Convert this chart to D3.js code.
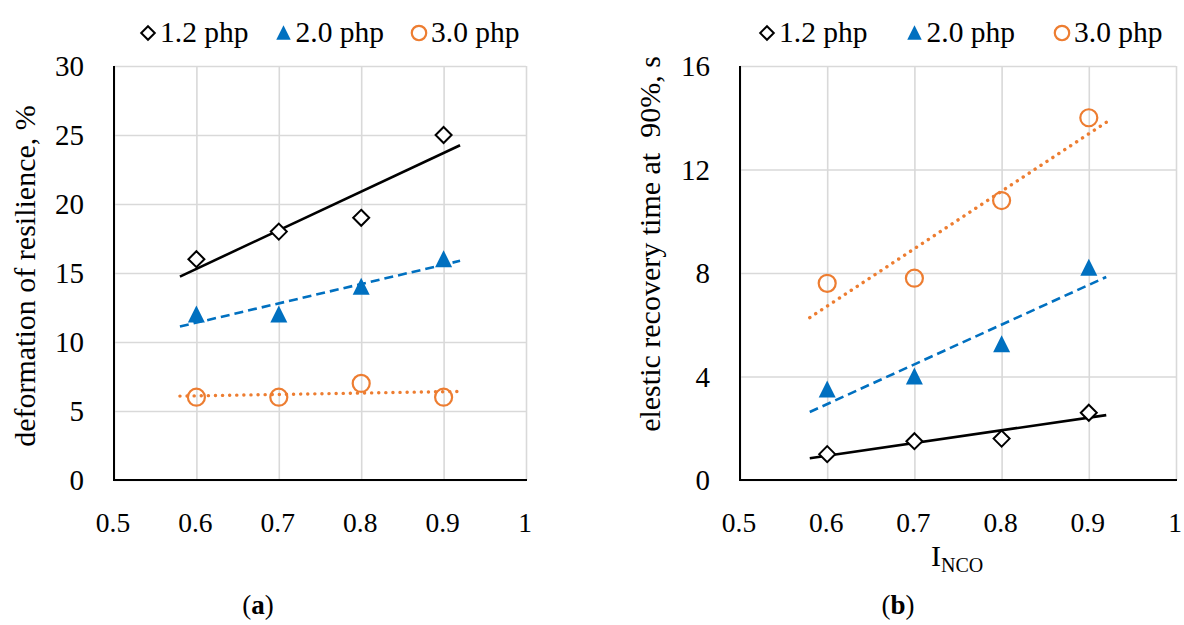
<!DOCTYPE html>
<html>
<head>
<meta charset="utf-8">
<script src="https://cdn.jsdelivr.net/npm/d3@7"></script>
<style>
  body { margin: 0; background: #fff; }
  svg { display: block; font-family: "Liberation Serif", "DejaVu Serif", serif; }
</style>
</head>
<body>
<svg id="chart" width="1184" height="625"></svg>
<script>
// --- data ---
const xValues = [0.6, 0.7, 0.8, 0.9];
const seriesNames = ["1.2 php", "2.0 php", "3.0 php"];

const resilience12 = [16, 18, 19, 25];
const resilience20 = [12, 12, 14, 16];
const resilience30 = [6, 6, 7, 6];

const recovery12 = [1.0, 1.5, 1.6, 2.6];
const recovery20 = [3.5, 4.0, 5.25, 8.2];
const recovery30 = [7.6, 7.8, 10.8, 14.0];

const xTicks = [0.5, 0.6, 0.7, 0.8, 0.9, 1];
const yTicksA = [0, 5, 10, 15, 20, 25, 30];
const yTicksB = [0, 4, 8, 12, 16];

const colors = ["#000000", "#0070c0", "#ed7d31"];

const svg = d3.select("#chart");

// least squares fit, drawn 0.02 beyond the data each side like Excel forecast
function trend(xs, ys) {
  const mx = d3.mean(xs), my = d3.mean(ys);
  const sxy = d3.sum(xs, (x, i) => (x - mx) * (ys[i] - my));
  const sxx = d3.sum(xs, x => (x - mx) * (x - mx));
  const b = sxy / sxx, a = my - b * mx;
  const x0 = d3.min(xs) - 0.02, x1 = d3.max(xs) + 0.02;
  return [[x0, a + b * x0], [x1, a + b * x1]];
}

function drawPanel(opts) {
  const x = d3.scaleLinear().domain([0.5, 1]).range([opts.left, opts.right]);
  const y = d3.scaleLinear().domain([0, opts.yMax]).range([480, 66]);
  const g = svg.append("g");

  // gridlines
  g.append("g")
    .attr("transform", "translate(0,480)")
    .call(d3.axisBottom(x).tickValues(xTicks).tickSize(-(480 - 66)).tickFormat(""))
    .call(s => s.select(".domain").remove())
    .call(s => s.selectAll("line").attr("stroke", "#d9d9d9").attr("stroke-width", 1.6));
  g.append("g")
    .attr("transform", `translate(${opts.left},0)`)
    .call(d3.axisLeft(y).tickValues(opts.yTicks).tickSize(-(opts.right - opts.left)).tickFormat(""))
    .call(s => s.select(".domain").remove())
    .call(s => s.selectAll("line").attr("stroke", "#d9d9d9").attr("stroke-width", 1.6));

  // axis lines
  g.append("line").attr("x1", opts.left).attr("x2", opts.left).attr("y1", 66).attr("y2", 481)
    .attr("stroke", "#000").attr("stroke-width", 2);
  g.append("line").attr("x1", opts.left - 1).attr("x2", opts.right + 1).attr("y1", 480).attr("y2", 480)
    .attr("stroke", "#000").attr("stroke-width", 2);

  // tick labels
  g.selectAll(".ylab").data(opts.yTicks).join("text")
    .attr("x", opts.left - 30).attr("y", d => y(d) + 10)
    .attr("text-anchor", "end").attr("font-size", 29).text(d => d);
  g.selectAll(".xlab").data(xTicks).join("text")
    .attr("x", d => x(d) - 1).attr("y", 532)
    .attr("text-anchor", "middle").attr("font-size", 27.5).text(d => d);

  // y title
  g.append("text")
    .attr("transform", `translate(${opts.titleX},${opts.titleY}) rotate(-90)`)
    .attr("text-anchor", "middle").attr("font-size", 30)
    .attr("xml:space", "preserve")
    .text(opts.yTitle);

  // trendlines
  const dashes = [null, "9,5", "0.1,7"];
  opts.series.forEach((ys, i) => {
    const pts = trend(xValues, ys);
    g.append("line")
      .attr("x1", x(pts[0][0])).attr("y1", y(pts[0][1]))
      .attr("x2", x(pts[1][0])).attr("y2", y(pts[1][1]))
      .attr("stroke", colors[i]).attr("stroke-width", i === 2 ? 3.4 : 2.6)
      .attr("stroke-linecap", i === 2 ? "round" : "butt")
      .attr("stroke-dasharray", dashes[i]);
  });

  // markers
  opts.series.forEach((ys, i) => {
    const pts = ys.map((v, j) => [x(xValues[j]), y(v)]);
    drawMarker(g, i, pts);
  });

  // legend
  const leg = g.append("g").attr("transform", `translate(${opts.legendX},33)`);
  let cx = 0;
  seriesNames.forEach((name, i) => {
    drawMarker(leg, i, [[cx + 7, 0]], true);
    const t = leg.append("text").attr("x", cx + 19).attr("y", 9)
      .attr("font-size", 29.5).text(name);
    cx += 19 + t.node().getComputedTextLength() + opts.legendGap;
  });
}

function drawMarker(g, i, pts, small) {
  const k = small ? 0.85 : 1;
  if (i === 0) {
    g.selectAll(null).data(pts).join("path")
      .attr("d", d => { const r = 8 * k; return `M${d[0]},${d[1] - r}L${d[0] + r},${d[1]}L${d[0]},${d[1] + r}L${d[0] - r},${d[1]}Z`; })
      .attr("fill", "#fff").attr("stroke", "#000").attr("stroke-width", 2);
  } else if (i === 1) {
    g.selectAll(null).data(pts).join("path")
      .attr("d", d => { const w = 8.5 * k, h = 16 * k; return `M${d[0]},${d[1] - h / 2 - 1}L${d[0] + w},${d[1] + h / 2}L${d[0] - w},${d[1] + h / 2}Z`; })
      .attr("fill", colors[1]);
  } else {
    g.selectAll(null).data(pts).join("circle")
      .attr("cx", d => d[0]).attr("cy", d => d[1]).attr("r", 8.5 * k)
      .attr("fill", "none").attr("stroke", colors[2]).attr("stroke-width", 2.2);
  }
}

drawPanel({
  left: 114, right: 526, yMax: 30, yTicks: yTicksA,
  series: [resilience12, resilience20, resilience30],
  yTitle: "deformation of resilience, %", titleX: 35, titleY: 276,
  legendX: 141, legendGap: 28
});

drawPanel({
  left: 740, right: 1176, yMax: 16, yTicks: yTicksB,
  series: [recovery12, recovery20, recovery30],
  yTitle: "elestic recovery time at  90%, s", titleX: 660, titleY: 244,
  legendX: 760, legendGap: 40
});

// x title of panel b
const xt = svg.append("text").attr("x", 931).attr("y", 566)
  .attr("text-anchor", "start").attr("font-size", 30);
xt.append("tspan").text("I");
xt.append("tspan").attr("font-size", 20).attr("dy", 6).text("NCO");

// captions
[["a", 258], ["b", 898]].forEach(([l, cx]) => {
  const t = svg.append("text").attr("x", cx).attr("y", 614)
    .attr("text-anchor", "middle").attr("font-size", 27);
  t.append("tspan").text("(");
  t.append("tspan").attr("font-weight", "bold").text(l);
  t.append("tspan").text(")");
});
</script>
</body>
</html>
